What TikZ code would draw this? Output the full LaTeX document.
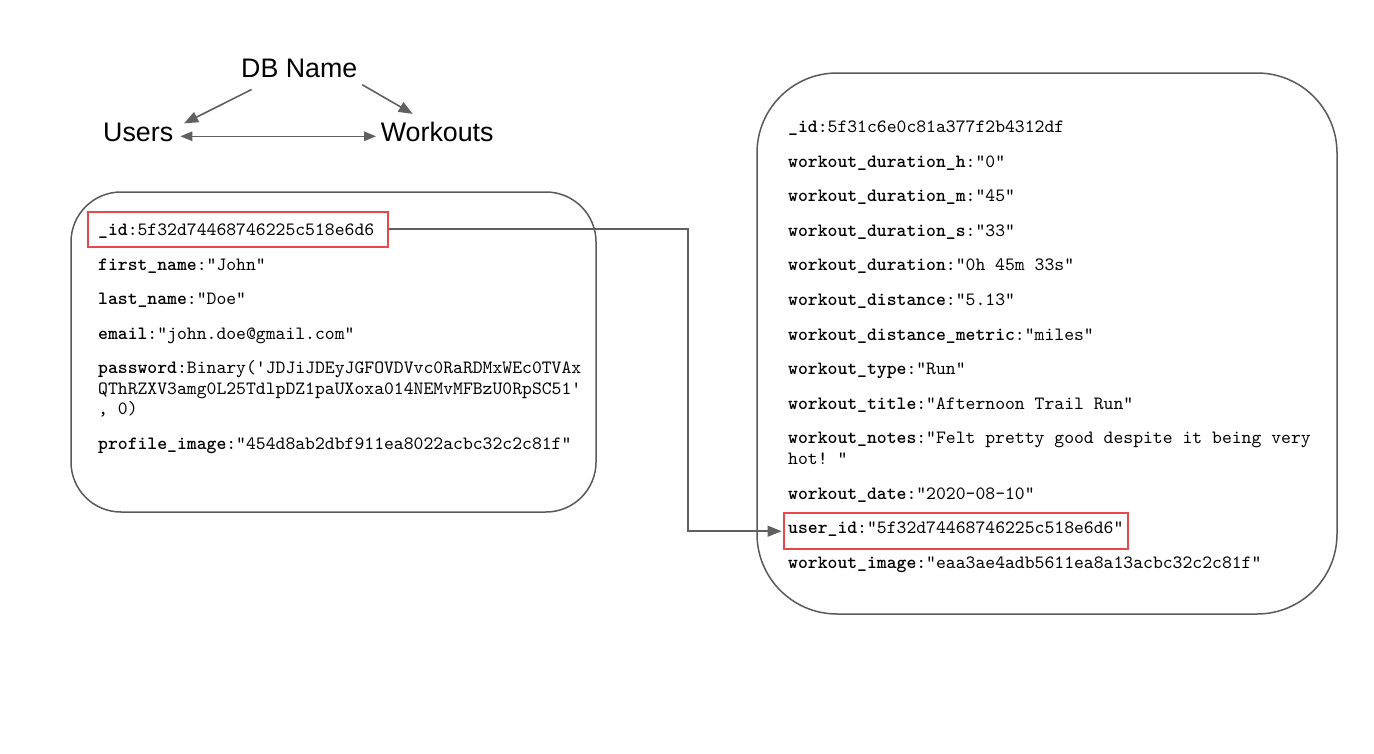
\documentclass[tikz,border=0pt]{standalone}
\usepackage{fontspec}
\newfontfamily\headfont{Liberation Sans}
\newfontfamily\fieldfont{lmmono10-regular.otf}[BoldFont=lmmonolt10-bold.otf]
\usetikzlibrary{arrows.meta}
\definecolor{linegray}{HTML}{606060}
\definecolor{boxgray}{HTML}{5A5A5A}
\definecolor{hired}{HTML}{E8484C}
\tikzset{
  head/.style={anchor=base west, inner sep=0pt, font=\headfont\fontsize{26.8}{32}\selectfont, text=black},
  field/.style={anchor=base west, inner sep=0pt, font=\fieldfont\fontsize{18.78}{20.5}\selectfont, text=black},
  arr/.style={draw=linegray, line width=1.6pt, -{Triangle[length=14pt,width=11pt]}},
  dbl/.style={draw=linegray, line width=1.4pt, {Triangle[length=12pt,width=9.5pt]}-{Triangle[length=12pt,width=9.5pt]}},
  docbox/.style={draw=boxgray, line width=1.5pt},
  hibox/.style={draw=hired, line width=1.9pt, inner sep=0pt},
}
\begin{document}
\begin{tikzpicture}[x=1pt,y=-1pt]
\useasboundingbox[fill=white] (0,0) rectangle (1374,753);

% headings
\node[head] (db) at (241,77.3) {DB Name};
\node[head] (users) at (103,141) {Users};
\node[head] (wo) at (380.7,141) {Workouts};
\draw[arr] ([shift={(10.7,11.7)}]db.south west) -- ([shift={(10.7,1)}]users.north east);
\draw[arr] ([shift={(4.7,7)}]db.south east) -- ([shift={(32,-7.5)}]wo.north west);
\draw[dbl] ([shift={(7,0)}]users.east |- 0,136.3) coordinate (dA) -- ([shift={(-4.7,0)}]wo.west |- 0,136.3) coordinate (dB);

% document boxes
\node[docbox, rounded corners=50pt, minimum width=525pt, minimum height=320pt] (ubox) at (333.5,352) {};
\node[docbox, rounded corners=80pt, minimum width=580pt, minimum height=541pt] (wbox) at (1047,343.5) {};

% highlight boxes
\node[hibox, minimum width=300.3pt, minimum height=35pt] (idbox) at (237.85,229.2) {};
\node[hibox, minimum width=344pt, minimum height=35.7pt] (uidbox) at (956,531.2) {};

% user fields
\node[field] (u1) at (98,235.5) {\textbf{\_id}:5f32d74468746225c518e6d6};
\node[field] (u2) at (98,270.1) {\textbf{first\_name}:"John"};
\node[field] (u3) at (98,304.7) {\textbf{last\_name}:"Doe"};
\node[field] (u4) at (98,339.3) {\textbf{email}:"john.doe@gmail.com"};
\node[field] (u5) at (98,373.9) {\textbf{password}:Binary('JDJiJDEyJGFOVDVvc0RaRDMxWEc0TVAx};
\node[field] (u6) at (98,394.4) {QThRZXV3amg0L25TdlpDZ1paUXoxa014NEMvMFBzU0RpSC51'};
\node[field] (u7) at (98,414.9) {,\ 0)};
\node[field] (u8) at (98,449.5) {\textbf{profile\_image}:"454d8ab2dbf911ea8022acbc32c2c81f"};

% workout fields
\node[field] (w1) at (788,132.5) {\textbf{\_id}:5f31c6e0c81a377f2b4312df};
\node[field] (w2) at (788,167.1) {\textbf{workout\_duration\_h}:"0"};
\node[field] (w3) at (788,201.7) {\textbf{workout\_duration\_m}:"45"};
\node[field] (w4) at (788,236.3) {\textbf{workout\_duration\_s}:"33"};
\node[field] (w5) at (788,270.9) {\textbf{workout\_duration}:"0h 45m 33s"};
\node[field] (w6) at (788,305.5) {\textbf{workout\_distance}:"5.13"};
\node[field] (w7) at (788,340.1) {\textbf{workout\_distance\_metric}:"miles"};
\node[field] (w8) at (788,374.7) {\textbf{workout\_type}:"Run"};
\node[field] (w9) at (788,409.3) {\textbf{workout\_title}:"Afternoon Trail Run"};
\node[field] (w10) at (788,443.9) {\textbf{workout\_notes}:"Felt pretty good despite it being very};
\node[field] (w11) at (788,464.4) {hot!\ "};
\node[field] (w12) at (788,499.0) {\textbf{workout\_date}:"2020-08-10"};
\node[field] (w13) at (788,533.6) {\textbf{user\_id}:"5f32d74468746225c518e6d6"};
\node[field] (w14) at (788,568.2) {\textbf{workout\_image}:"eaa3ae4adb5611ea8a13acbc32c2c81f"};

% link
\coordinate (bend) at (688,229.2);
\draw[arr, line width=1.5pt] (idbox.east) -- (bend) |- ([xshift=-1.5pt]uidbox.west);
\end{tikzpicture}
\end{document}
